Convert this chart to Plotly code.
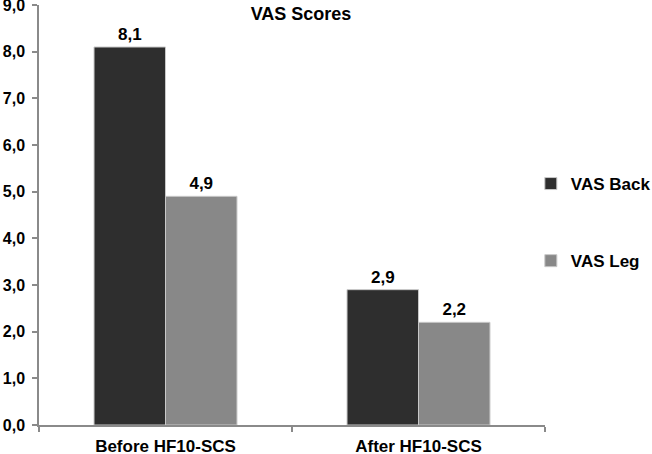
import plotly.graph_objects as go

categories = ["Before HF10-SCS", "After HF10-SCS"]
vas_back = [8.1, 2.9]
vas_leg = [4.9, 2.2]
series_names = ["VAS Back", "VAS Leg"]
title_text = "VAS Scores"

FONT = "Liberation Sans, Arial, sans-serif"

def lbl(vals):
    return [f"{v:.1f}".replace(".", ",") for v in vals]

fig = go.Figure()
fig.add_trace(go.Bar(
    x=categories, y=vas_back, name=series_names[0], legendgroup="a",
    marker=dict(color="#2e2e2e", line=dict(color="#c8c8c8", width=1)),
    text=lbl(vas_back), textposition="outside", cliponaxis=False,
    textfont=dict(family=FONT, size=17, color="#000", weight="bold"),
))
fig.add_trace(go.Bar(
    x=categories, y=vas_leg, name=series_names[1], legendgroup="b",
    marker=dict(color="#888888", line=dict(color="#c8c8c8", width=1)),
    text=lbl(vas_leg), textposition="outside", cliponaxis=False,
    textfont=dict(family=FONT, size=17, color="#000", weight="bold"),
))

fig.update_layout(
    width=652, height=454,
    margin=dict(l=39, r=107, t=5, b=29, autoexpand=False),
    paper_bgcolor="white", plot_bgcolor="white",
    separators=", ",
    barmode="group", bargap=0.435, bargroupgap=0,
    title=dict(text=title_text, x=301/652, xanchor="center", y=1-14/454, yanchor="middle",
               font=dict(family=FONT, size=18, color="#000", weight="bold")),
    font=dict(family=FONT, color="#000"),
    showlegend=True,
    legend=dict(x=0.972, xanchor="left", y=1-161/420, yanchor="top",
                font=dict(family=FONT, size=17, color="#000", weight="bold"),
                tracegroupgap=52, itemwidth=30, bgcolor="rgba(0,0,0,0)"),
)
fig.update_yaxes(
    range=[0, 9], dtick=1, tickformat=".1f", showgrid=False, zeroline=False,
    showline=True, linecolor="#8a8a8a", linewidth=1.5,
    ticks="outside", ticklen=5, tickcolor="#8a8a8a", tickwidth=1.5,
    tickfont=dict(family=FONT, size=16, color="#000", weight="bold"),
    ticklabelstandoff=4, automargin=False, ticklabeloverflow="allow",
)
fig.update_xaxes(
    showgrid=False, showline=True, linecolor="#8a8a8a", linewidth=1.5,
    ticks="outside", ticklen=5, tickcolor="#8a8a8a", tickwidth=1.5,
    tickson="boundaries", automargin=False, ticklabeloverflow="allow",
    tickfont=dict(family=FONT, size=17, color="#000", weight="bold"),
    ticklabelstandoff=5,
)

fig.write_html("out.html", config={"displayModeBar": False},
               post_script="document.body.style.margin='0';document.body.style.overflow='hidden';")
